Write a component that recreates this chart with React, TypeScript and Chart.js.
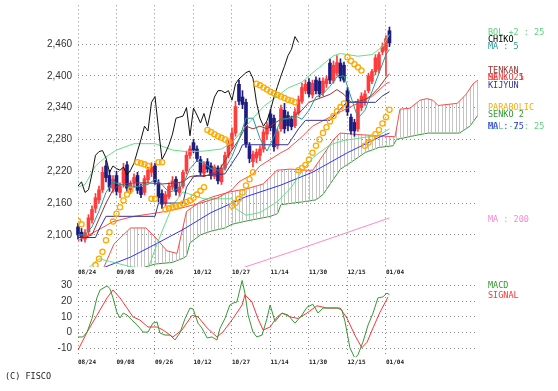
import React, { useEffect, useRef } from 'react';
import { Chart, registerables } from 'chart.js';
Chart.register(...registerables);

// ---- axis labels ----
const DATES = ['08/24', '09/08', '09/26', '10/12', '10/27', '11/14', '11/30', '12/15', '01/04'];
const DATE_IDX = [0, 11, 22, 33, 44, 55, 66, 77, 88];
const PRICE_TICKS = [2100, 2160, 2220, 2280, 2340, 2400, 2460];
const MACD_TICKS = [-10, 0, 10, 20, 30];

// ---- candles (trading-day index 0..89) ----
const OPEN = [
  2115, 2105, 2092, 2106, 2128, 2150, 2166, 2185, 2230, 2212,
  2188, 2212, 2180, 2198, 2232, 2185, 2200, 2212, 2190, 2180,
  2204, 2218, 2230, 2198, 2178, 2160, 2172, 2190, 2205, 2180,
  2192, 2220, 2250, 2274, 2262, 2242, 2216, 2238, 2230, 2210,
  2226, 2200, 2226, 2250, 2268, 2292, 2384, 2360, 2350, 2268,
  2238, 2245, 2250, 2262, 2290, 2328, 2320, 2268, 2300, 2335,
  2325, 2318, 2306, 2330, 2352, 2372, 2388, 2364, 2392, 2390,
  2368, 2385, 2424, 2390, 2405, 2424, 2420, 2372, 2322, 2312,
  2300, 2340, 2350, 2372, 2390, 2408, 2412, 2445, 2448, 2485,
];
const HIGH = [
  2122, 2112, 2110, 2138, 2155, 2178, 2192, 2228, 2240, 2222,
  2212, 2220, 2198, 2235, 2238, 2202, 2215, 2218, 2196, 2212,
  2228, 2236, 2235, 2204, 2185, 2182, 2198, 2210, 2210, 2198,
  2222, 2258, 2268, 2280, 2268, 2248, 2238, 2244, 2236, 2232,
  2230, 2232, 2256, 2278, 2302, 2352, 2392, 2372, 2356, 2274,
  2258, 2262, 2268, 2300, 2312, 2336, 2326, 2300, 2345, 2348,
  2332, 2324, 2338, 2362, 2386, 2392, 2395, 2392, 2398, 2396,
  2396, 2400, 2432, 2428, 2438, 2432, 2426, 2378, 2328, 2318,
  2356, 2368, 2372, 2405, 2412, 2440, 2445, 2462, 2476, 2492,
];
const LOW = [
  2092, 2088, 2086, 2100, 2122, 2142, 2160, 2180, 2200, 2182,
  2180, 2175, 2170, 2190, 2182, 2178, 2190, 2178, 2170, 2175,
  2198, 2210, 2195, 2162, 2150, 2155, 2168, 2185, 2175, 2172,
  2188, 2215, 2244, 2255, 2238, 2212, 2210, 2218, 2205, 2206,
  2196, 2195, 2222, 2245, 2262, 2286, 2345, 2338, 2265, 2236,
  2228, 2236, 2240, 2256, 2280, 2296, 2258, 2262, 2295, 2292,
  2296, 2298, 2302, 2326, 2348, 2366, 2360, 2358, 2366, 2360,
  2362, 2378, 2385, 2386, 2400, 2390, 2388, 2325, 2290, 2286,
  2295, 2334, 2344, 2368, 2385, 2402, 2405, 2440, 2400, 2455,
];
const CLOSE = [
  2100, 2095, 2104, 2132, 2148, 2170, 2185, 2218, 2208, 2190,
  2205, 2182, 2192, 2225, 2188, 2196, 2208, 2184, 2176, 2206,
  2222, 2228, 2200, 2170, 2158, 2176, 2192, 2202, 2182, 2190,
  2218, 2250, 2262, 2260, 2244, 2218, 2232, 2224, 2212, 2228,
  2202, 2226, 2250, 2272, 2292, 2342, 2352, 2346, 2272, 2244,
  2252, 2256, 2262, 2294, 2306, 2302, 2266, 2295, 2338, 2300,
  2306, 2304, 2332, 2355, 2378, 2384, 2366, 2386, 2372, 2366,
  2390, 2394, 2392, 2420, 2425, 2396, 2392, 2332, 2296, 2296,
  2348, 2362, 2366, 2400, 2408, 2434, 2440, 2455, 2470, 2462,
];

// lagging span (black), index 0..63
const CHIKO = [
  2192, 2200, 2180, 2185, 2215, 2250, 2257, 2259, 2245, 2218,
  2230, 2225, 2222, 2228, 2213, 2222, 2235, 2258, 2280, 2305,
  2296, 2350, 2361, 2300, 2242, 2255, 2270, 2290, 2320, 2322,
  2324, 2340, 2287, 2339, 2326, 2311, 2329, 2305, 2335, 2360,
  2372, 2372, 2368, 2372, 2354, 2385, 2394, 2400, 2406, 2409,
  2395, 2350, 2320, 2305, 2315, 2335, 2360, 2380, 2400, 2418,
  2438, 2450, 2474, 2463,
];

// [index, value] readings
const MA5 = [[0,2100],[2,2100],[4,2115],[6,2145],[8,2180],[10,2200],[12,2195],[14,2192],[16,2190],[18,2193],[20,2195],[22,2205],[24,2195],[26,2180],[28,2185],[30,2195],[32,2225],[34,2240],[36,2235],[38,2225],[40,2222],[42,2225],[44,2248],[46,2280],[48,2320],[50,2320],[52,2282],[54,2258],[56,2285],[58,2318],[60,2320],[62,2325],[64,2318],[66,2335],[68,2360],[70,2366],[72,2380],[74,2398],[76,2400],[78,2360],[80,2320],[82,2335],[84,2370],[86,2405],[88,2440],[89,2450]];
const MA25 = [[0,2089],[6,2110],[10,2125],[16,2135],[23,2142],[28,2148],[35,2160],[40,2170],[44,2185],[46,2200],[50,2215],[52,2230],[58,2255],[60,2262],[64,2285],[67,2305],[74,2329],[78,2342],[84,2361],[88,2385],[89,2388]];
const MA75 = [[6,2032],[8,2040],[15,2058],[22,2082],[30,2110],[38,2142],[48,2172],[58,2194],[67,2218],[77,2255],[86,2284],[89,2292]];
const MA200 = [[40,2022],[48,2040],[60,2066],[75,2100],[89,2132]];
const BOL_UP = [[0,2190],[2,2195],[5,2230],[8,2247],[11,2260],[16,2272],[22,2272],[27,2260],[31,2257],[36,2258],[41,2262],[44,2274],[48,2305],[53,2342],[56,2357],[60,2377],[64,2388],[66,2400],[69,2416],[73,2438],[75,2442],[80,2437],[84,2440],[87,2455],[89,2478]];
const BOL_DN = [[2,2030],[3,2038],[6,2055],[9,2050],[12,2045],[15,2040],[20,2036],[23,2090],[27,2155],[30,2181],[36,2168],[44,2168],[45,2150],[48,2137],[52,2142],[57,2163],[61,2190],[64,2220],[67,2245],[72,2270],[76,2278],[86,2288],[89,2300]];
const TENKAN = [[0,2100],[2,2095],[4,2100],[6,2130],[8,2160],[10,2185],[12,2195],[16,2198],[20,2198],[24,2196],[28,2198],[30,2200],[32,2210],[34,2212],[36,2210],[38,2215],[40,2218],[42,2240],[44,2260],[46,2280],[48,2305],[50,2300],[52,2305],[54,2300],[56,2310],[58,2318],[60,2318],[62,2325],[64,2335],[66,2350],[68,2355],[70,2360],[72,2365],[74,2374],[76,2365],[78,2350],[80,2352],[82,2355],[84,2364],[86,2378],[88,2396],[89,2404]];
const KIJUN = [[0,2095],[5,2095],[6,2110],[8,2135],[22,2135],[23,2160],[30,2160],[31,2190],[33,2210],[42,2215],[44,2235],[46,2255],[47,2270],[60,2270],[61,2280],[63,2300],[65,2316],[72,2316],[74,2330],[76,2345],[77,2350],[85,2350],[87,2362],[89,2370]];
const SENKO1 = [[6,2020],[7.4,2039],[10.3,2083],[15,2113],[19.4,2113],[22.3,2094],[25.4,2070],[28.3,2065],[29.5,2100],[31,2144],[35,2163],[38.6,2172],[43.4,2181],[48.3,2187],[52.9,2196],[56.9,2222],[60.6,2224],[65.4,2222],[67.1,2222],[70,2250],[72.9,2279],[74.9,2292],[80.6,2289],[90.6,2285],[92,2337],[94.9,2339],[97.7,2354],[99.7,2357],[101.4,2354],[102.9,2344],[108.3,2348],[109,2352],[111,2366],[112.9,2385],[114.3,2392]];
const SENKO2 = [[14,2028],[16,2034],[19,2039],[22,2045],[27,2048],[30,2056],[31,2060],[32,2085],[35,2100],[38,2107],[42,2113],[44,2120],[48,2126],[55,2135],[57,2140],[58,2157],[65,2163],[68,2166],[70,2176],[73,2205],[75,2224],[78,2237],[82,2255],[86,2265],[90,2268],[91,2280],[96,2287],[100,2292],[109,2292],[112,2305],[114.3,2326]];
const SAR = [[0,2126],[1,2120],[5,2043],[6,2055],[7,2068],[8,2090],[9,2105],[10,2125],[11,2140],[12,2152],[13,2165],[14,2176],[15,2185],[17,2237],[18,2235],[19,2233],[20,2230],[21,2168],[22,2168],[23,2237],[24,2237],[25,2148],[26,2150],[27,2152],[28,2154],[29,2156],[30,2159],[31,2162],[32,2165],[33,2170],[34,2176],[35,2183],[36,2190],[37,2298],[38,2294],[39,2290],[40,2286],[41,2283],[42,2280],[43,2276],[44,2155],[45,2160],[46,2168],[47,2180],[48,2193],[49,2205],[50,2218],[51,2385],[52,2382],[53,2378],[54,2374],[55,2370],[56,2367],[57,2364],[58,2361],[59,2358],[60,2355],[61,2353],[62,2350],[63,2222],[64,2226],[65,2232],[66,2242],[67,2255],[68,2268],[69,2280],[70,2292],[71,2303],[72,2314],[73,2324],[74,2333],[75,2341],[76,2348],[77,2435],[78,2428],[79,2422],[80,2416],[81,2410],[82,2268],[83,2274],[84,2283],[85,2290],[86,2298],[87,2310],[88,2322],[89,2336]];

const MACD = [[0,-2.7],[1.4,-2.7],[2.6,0.4],[4,9],[5.4,22],[6.3,27],[8.3,29.6],[9.1,28],[10,22],[11.1,13],[12,9.3],[12.9,12.4],[14,11.2],[15.4,8],[16.9,4.9],[18.6,0.4],[20,0.4],[21.4,6],[22.6,6.8],[23.4,-0.2],[24.9,-1.5],[26.3,-1.5],[27.7,-4.6],[29.1,-0.2],[30.6,9],[32,15.6],[32.9,15],[34.3,6],[35.4,3],[36.9,-3.3],[38.3,-2.7],[39.7,-4.6],[40.6,2.9],[42,9],[43.4,17.5],[44.3,18.7],[45.4,19.4],[46.9,33],[47.7,25],[48.6,11.2],[50,0.4],[51.1,-2.7],[52.6,-1.5],[54,9],[54.9,17.5],[56.3,7],[58.3,12.4],[60,11.2],[62,6],[64,11.2],[65.4,16],[67.1,18],[68.6,12.4],[70,15.6],[72,15.6],[74,15.6],[75.4,14.4],[76.3,7],[77.7,-9.5],[79.1,-16],[80,-14],[81.4,-6],[82.9,4.9],[84.3,12.4],[85.7,22],[87.1,22.6],[88.3,25],[89,24]];
const SIGNAL = [[0,-11],[2.6,0.4],[5.4,11],[8.3,22],[10,27],[12,22],[14,15.6],[15.7,10],[17.7,8],[20,3.6],[22.6,3.6],[24.3,1.7],[27.1,-2.7],[29.7,1.7],[32.6,11],[34.3,10],[36.9,3],[39.7,-2.7],[41.4,0.4],[44.3,9],[46.9,17.5],[47.7,24],[49.7,19.4],[51.4,9],[52.9,1.7],[54.9,3.6],[56.9,10],[58.3,12.4],[60.6,10],[62.9,9],[65.4,12.4],[68.3,17],[71.1,15.6],[74.9,15.6],[76.9,9],[79.1,-1.5],[81.1,-9.5],[82.6,-6],[84.3,3],[86.3,13],[88.6,22.6]];

const C_UP = '#ff3b3b';
const C_DN = '#1c1c80';
const GRID = '#8c8c8c';
const X_MAX = 114.3;

const pts = (a: number[][]) => a.map(([x, y]) => ({ x, y }));

function xAxis(height: number) {
  return {
    type: 'linear', min: 0, max: X_MAX, offset: false,
    grid: { color: GRID, lineWidth: 1, drawTicks: false, offset: false },
    border: { display: false, dash: [1, 3] },
    ticks: {
      autoSkip: false, maxRotation: 0, minRotation: 0, align: 'start', padding: 2,
      color: '#222', font: { family: 'DejaVu Sans Mono', size: 6, weight: 'bold' },
      callback: (v: number) => { const k = DATE_IDX.indexOf(v); return k >= 0 ? DATES[k] : ''; },
    },
    afterBuildTicks: (s: any) => { s.ticks = DATE_IDX.map((v) => ({ value: v })); },
    afterFit: (s: any) => { s.height = height; s.paddingLeft = 0; s.paddingRight = 0; },
  };
}

function yAxis(min: number, max: number, ticks: number[], fmt: (v: number) => string) {
  return {
    type: 'linear', min, max, beginAtZero: false,
    grid: { color: GRID, lineWidth: 1, drawTicks: false },
    border: { display: false, dash: [1, 3] },
    ticks: { padding: 6, color: '#333', font: { family: 'Liberation Sans', size: 10 }, callback: fmt },
    afterBuildTicks: (s: any) => { s.ticks = ticks.map((v) => ({ value: v })); },
    afterFit: (s: any) => { s.width = 78; s.paddingTop = 0; s.paddingBottom = 0; },
  };
}

const line = (data: any[], color: string, order: number, extra: any = {}) => ({
  type: 'line', data, borderColor: color, backgroundColor: color, borderWidth: 1,
  pointRadius: 0, tension: 0, fill: false, order, ...extra,
});

const LABELS: { t: string; c: string; y: number }[] = [
  { t: 'BOL +2 : 25', c: '#5fd07f', y: 32 },
  { t: 'CHIKO', c: '#000000', y: 39 },
  { t: 'MA : 5', c: '#2a9a9a', y: 46 },
  { t: 'TENKAN', c: '#993333', y: 70 },
  { t: 'SENKO 1', c: '#ff3333', y: 77 },
  { t: 'MA : 25', c: '#ff3333', y: 77 },
  { t: 'KIJYUN', c: '#333399', y: 85 },
  { t: 'PARABOLIC', c: '#ffaa00', y: 107 },
  { t: 'SENKO 2', c: '#339933', y: 114 },
  { t: 'BOL -2 : 25', c: '#5fd07f', y: 126 },
  { t: 'MA : 75', c: '#3333ff', y: 126 },
  { t: 'MA : 200', c: '#ff88cc', y: 219 },
  { t: 'MACD', c: '#339933', y: 285 },
  { t: 'SIGNAL', c: '#ff3333', y: 295 },
];

export default function App() {
  const mainRef = useRef<HTMLCanvasElement>(null);
  const macdRef = useRef<HTMLCanvasElement>(null);

  useEffect(() => {
    const mc = mainRef.current!;
    const pc = document.createElement('canvas');
    pc.width = 7; pc.height = 2;
    const g = pc.getContext('2d')!;
    g.fillStyle = '#c4c4c4';
    g.fillRect(1, 0, 1, 2);
    g.fillRect(4, 0, 1, 2);
    const hatch = mc.getContext('2d')!.createPattern(pc, 'repeat');

    const idx = CLOSE.map((_, i) => i);
    const col = idx.map((i) => (CLOSE[i] >= OPEN[i] ? C_UP : C_DN));

    const main = new Chart(mc, {
      type: 'line',
      data: {
        datasets: [
          line(pts(SENKO2), '#339933', 30),
          line(pts(SENKO1), '#ff4a4a', 29, { fill: { target: 0, above: hatch, below: hatch } }),
          { type: 'bar', data: idx.map((i) => ({ x: i, y: [LOW[i], HIGH[i]] })), backgroundColor: col, barThickness: 1, grouped: false, order: 20, clip: false },
          { type: 'bar', data: idx.map((i) => ({ x: i, y: [OPEN[i], CLOSE[i]] })), backgroundColor: col, barThickness: 3, grouped: false, order: 19, clip: false },
          line(pts(MA200), '#ff88cc', 12),
          line(pts(MA75), '#3333ff', 11),
          line(pts(BOL_DN), '#66dd88', 10),
          line(pts(BOL_UP), '#66dd88', 10),
          line(pts(MA25), '#ff4a4a', 9),
          line(pts(KIJUN), '#333399', 8),
          line(pts(TENKAN), '#993333', 7),
          line(pts(MA5), '#2a9a9a', 6),
          line(CHIKO.map((v, j) => ({ x: j, y: v })), '#111111', 5),
          line(pts(SAR), '#ffaa00', 1, { showLine: false, pointRadius: 2.6, pointStyle: 'circle', pointBorderColor: '#ffaa00', pointBackgroundColor: 'rgba(0,0,0,0)', pointBorderWidth: 1.3 }),
        ] as any,
      },
      options: {
        responsive: false, animation: false, events: [],
        layout: { padding: { left: 0, right: 80, top: 0, bottom: 0 } },
        plugins: { legend: { display: false }, tooltip: { enabled: false } },
        scales: {
          x: xAxis(11) as any,
          y: yAxis(2039.4, 2533, PRICE_TICKS, (v: number) => String(v).replace(/\B(?=(\d{3})+(?!\d))/g, ',')) as any,
        },
      },
    });

    const macd = new Chart(macdRef.current!, {
      type: 'line',
      data: {
        datasets: [
          line(pts(SIGNAL), '#ff3333', 2),
          line(pts(MACD), '#339933', 1),
        ] as any,
      },
      options: {
        responsive: false, animation: false, events: [],
        layout: { padding: { left: 0, right: 80, top: 9, bottom: 0 } },
        plugins: { legend: { display: false }, tooltip: { enabled: false } },
        scales: {
          x: xAxis(13) as any,
          y: yAxis(-15.35, 35.2, MACD_TICKS, (v: number) => String(v)) as any,
        },
      },
    });

    return () => { main.destroy(); macd.destroy(); };
  }, []);

  const txt: React.CSSProperties = {
    position: 'absolute', left: 488, fontFamily: 'DejaVu Sans Mono', fontSize: '8.5px',
    lineHeight: '9px', whiteSpace: 'pre', margin: 0,
  };

  return (
    <div style={{ position: 'absolute', left: 0, top: 0, width: 558, height: 391, background: '#fff', overflow: 'hidden' }}>
      <canvas ref={mainRef} width={558} height={278} style={{ position: 'absolute', left: 0, top: 0, width: 558, height: 278 }} />
      <canvas ref={macdRef} width={558} height={102} style={{ position: 'absolute', left: 0, top: 268, width: 558, height: 102 }} />
      {LABELS.map((l, i) => (
        <div key={i} style={{ ...txt, top: l.y - 4.5, color: l.c }}>{l.t}</div>
      ))}
      <div style={{ ...txt, left: 5, top: 372, color: '#222' }}>(C) FISCO</div>
    </div>
  );
}
